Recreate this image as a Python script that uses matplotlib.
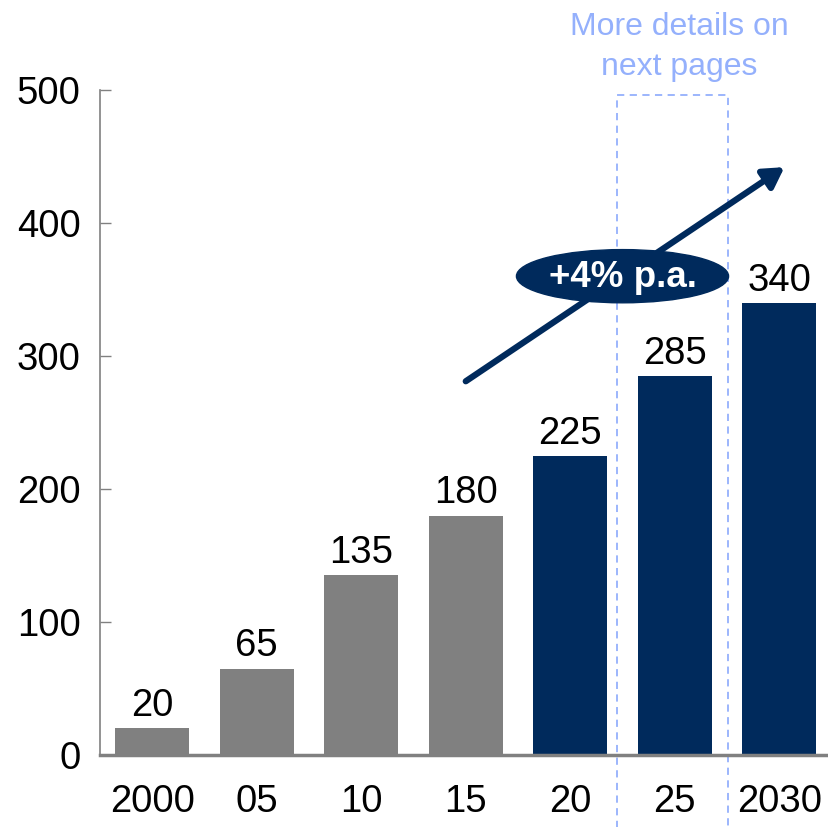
import matplotlib.pyplot as plt
from matplotlib.patches import Ellipse

plt.rcParams['font.family'] = ['Liberation Sans', 'DejaVu Sans']

years = ["2000", "05", "10", "15", "20", "25", "2030"]
values = [20, 65, 135, 180, 225, 285, 340]
colori = ["#808080"] * 4 + ["#002A5C"] * 3
yticks = [0, 100, 200, 300, 400, 500]

navy = "#002A5C"
azzurro = "#94B0FC"

fig = plt.figure(figsize=(8.29, 8.27), dpi=100)
ax = fig.add_axes([100 / 829, 72 / 827, 729 / 829, 665 / 827])

x = list(range(len(years)))
bars = ax.bar(x, values, width=0.71, color=colori, zorder=3)

# etichette sopra le barre
for xi, v in zip(x, values):
    ax.annotate(str(v), (xi, v), xytext=(0, 3), textcoords="offset points",
                ha="center", va="bottom", fontsize=27.5, color="black", zorder=5)

ax.set_xlim(-0.5, -0.5 + 729 / 104.5)
ax.set_ylim(0, 500)
ax.set_xticks(x)
ax.set_xticklabels(years, fontsize=27.5)
ax.set_yticks(yticks)
ax.set_yticklabels([str(t) for t in yticks], fontsize=27.5)
ax.tick_params(axis="x", length=0, pad=21)
ax.tick_params(axis="y", direction="in", length=8, width=1, color="#808080", pad=14)

for s in ["top", "right"]:
    ax.spines[s].set_visible(False)
ax.spines["left"].set_color("#808080")
ax.spines["left"].set_linewidth(1.2)
ax.spines["bottom"].set_color("#808080")
ax.spines["bottom"].set_linewidth(2.5)
ax.spines["bottom"].set_zorder(4)

# riquadro tratteggiato
bx0, bx1, btop = 4.45, 5.51, 496
ax.plot([bx0, bx0, bx1, bx1], [-60, btop, btop, -60], color=azzurro,
        lw=1.3, ls=(0, (4, 3)), clip_on=False, zorder=2)
ax.text(5.04, 506, "More details on\nnext pages", ha="center",
        va="bottom", fontsize=23, color=azzurro, linespacing=1.42)

# freccia di crescita
ax.annotate("", xy=(6.05, 442), xytext=(3.0, 281),
            arrowprops=dict(arrowstyle="-|>,head_length=1.2,head_width=0.7",
                            color=navy, lw=4.5, shrinkA=0, shrinkB=0),
            zorder=6)

ell = Ellipse((4.5, 360), 2.03, 40, color=navy, zorder=7)
ax.add_patch(ell)
ax.text(4.5, 359, "+4% p.a.", ha="center", va="center", fontsize=26.5,
        fontweight="bold", color="white", zorder=8)

plt.savefig("out.png", dpi=100)
